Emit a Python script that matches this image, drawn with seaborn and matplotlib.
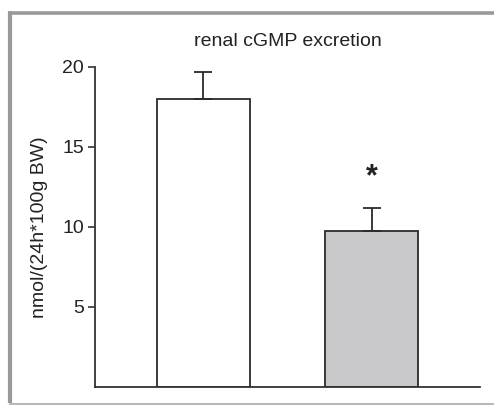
import matplotlib
matplotlib.use("Agg")
import matplotlib.pyplot as plt
import seaborn as sns
import pandas as pd
from matplotlib.lines import Line2D

groups = ["control", "treated"]
means = [18.0, 9.75]
errors = [1.67, 1.45]
bar_colors = ["#ffffff", "#c8c8ca"]
title = "renal cGMP excretion"
ylabel = "nmol/(24h*100g BW)"
yticks = [5, 10, 15, 20]
star_y = 13.1

sns.set_theme(style="white")
plt.rcParams["font.family"] = ["Liberation Sans", "DejaVu Sans"]

df = pd.DataFrame({"group": groups, "value": means})

fig = plt.figure(figsize=(4.94, 4.05), dpi=100)
ax = fig.add_axes([95/494, 1-386.7/405, (480-95)/494, (386.7-66.7)/405])

sns.barplot(data=df, x="group", y="value", hue="group", palette=bar_colors,
            width=0.55, edgecolor="#2b2b2b", linewidth=1.3, legend=False,
            errorbar=None, ax=ax)
ax.errorbar(range(len(groups)), means, yerr=[[0]*len(errors), errors],
            fmt="none", ecolor="#2b2b2b", elinewidth=1.3, capsize=6.5,
            capthick=1.3, zorder=1)
ax.text(1, star_y, "*", ha="center", va="center", fontsize=22,
        fontweight="bold", color="#222222")

ax.set_xlim(-0.64, 1.64)
ax.set_ylim(0, 20)
ax.set_yticks(yticks)
ax.set_xticks([])
ax.set_xlabel("")
ax.set_ylabel(ylabel, fontsize=14, color="#222222", labelpad=10)
ax.set_title(title, fontsize=14, color="#222222", pad=15)
ax.tick_params(axis="y", direction="out", length=5, width=1.2, pad=3,
               labelsize=14, colors="#333333", left=True, labelcolor="#222222")
for s in ["top", "right"]:
    ax.spines[s].set_visible(False)
for s in ["left", "bottom"]:
    ax.spines[s].set_color("#333333")
    ax.spines[s].set_linewidth(1.3)
ax.set_facecolor("white")

# figure frame: thick left/top, thin bottom
W, H = 494, 405
fig.add_artist(Line2D([10/W, 10/W], [1 - 11/H, 1 - 403/H], transform=fig.transFigure,
                      color="#999999", linewidth=3, solid_capstyle="butt"))
fig.add_artist(Line2D([8.5/W, 1.0], [1 - 13/H, 1 - 13/H], transform=fig.transFigure,
                      color="#999999", linewidth=2.6, solid_capstyle="butt"))
fig.add_artist(Line2D([8.5/W, 1.0], [1 - 403.5/H, 1 - 403.5/H], transform=fig.transFigure,
                      color="#aaaaaa", linewidth=1.2, solid_capstyle="butt"))

fig.savefig("out.png", dpi=100)
